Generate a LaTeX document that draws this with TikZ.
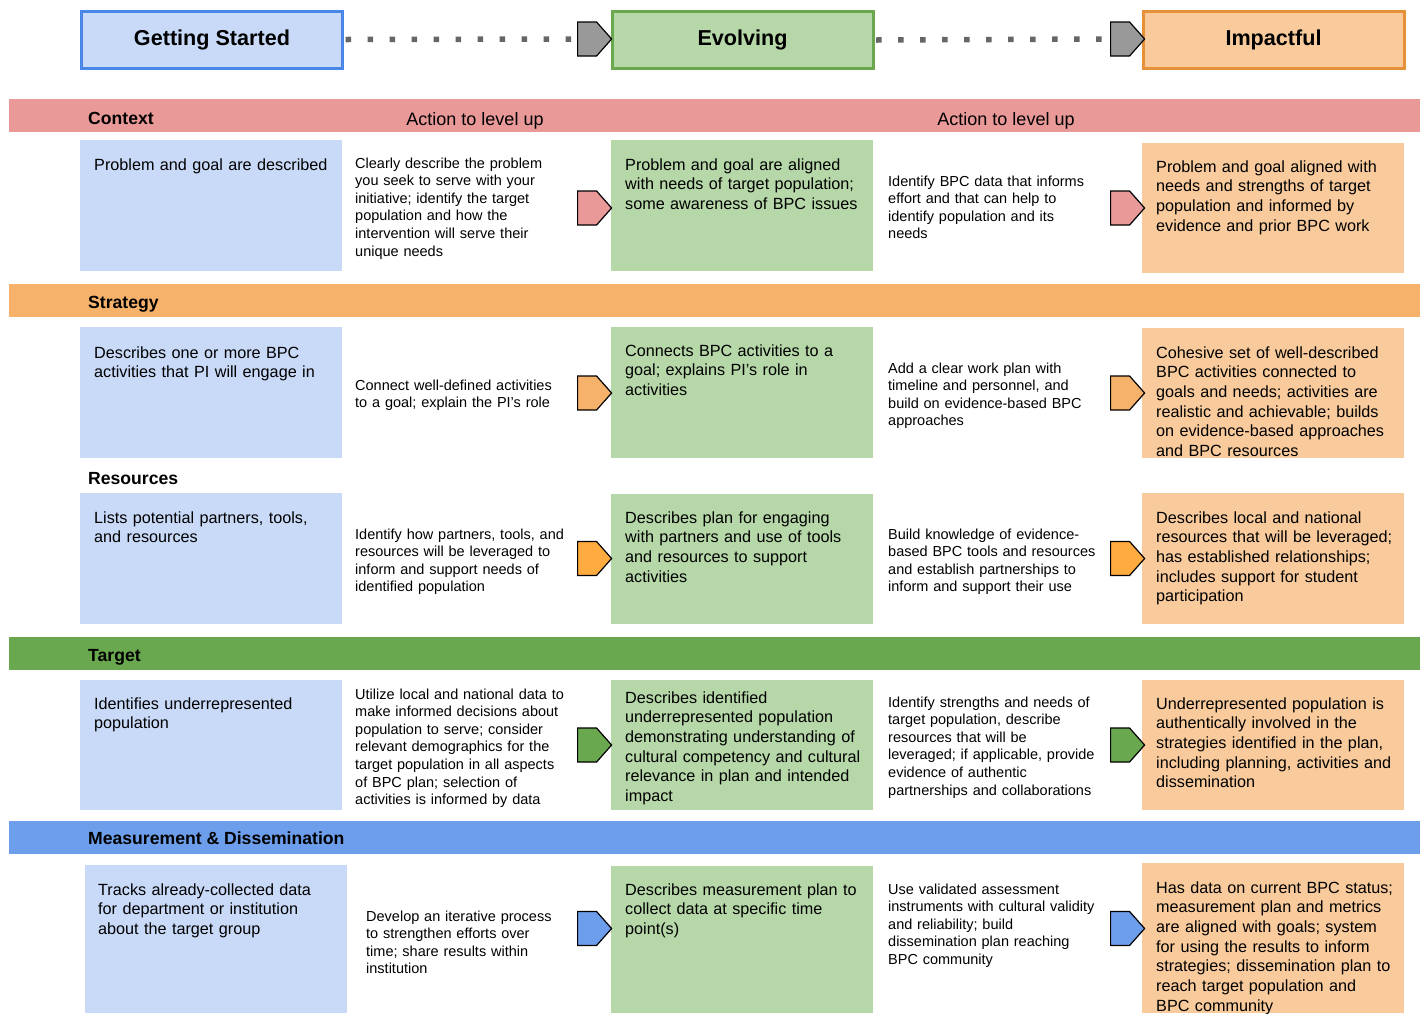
\documentclass[tikz,border=0pt]{standalone}
\usepackage{fontspec}
\setmainfont{Liberation Sans}
\usetikzlibrary{shapes.symbols}

\definecolor{startfill}{HTML}{C9DAF8}
\definecolor{startline}{HTML}{4A86E8}
\definecolor{evolvefill}{HTML}{B6D7A8}
\definecolor{evolveline}{HTML}{6AA84F}
\definecolor{impactfill}{HTML}{F9CB9C}
\definecolor{impactline}{HTML}{E69138}
\definecolor{contextband}{HTML}{EA9999}
\definecolor{strategyband}{HTML}{F6B26B}
\definecolor{resourcearrow}{HTML}{FFAB40}
\definecolor{targetband}{HTML}{6AA84F}
\definecolor{measureband}{HTML}{6D9EEB}
\definecolor{dotgray}{HTML}{666666}
\definecolor{stagearrow}{HTML}{999999}

\tikzset{
  stage/.style={draw, line width=3pt, minimum width=261pt, minimum height=57pt,
    font=\fontsize{21.6}{26}\selectfont\bfseries},
  lvlup/.style={shape=signal, signal to=east, signal pointer angle=97, draw=black,
    line width=1.2pt, minimum width=34pt, minimum height=34pt, inner sep=0pt, anchor=west},
  dotline/.style={draw=dotgray, line width=5.5pt, dash pattern=on 5.5pt off 16.5pt},
  boxtext/.style={anchor=base west, inner sep=0pt, text width=270pt, align=left,
    font=\fontsize{16.2}{19.7}\selectfont},
  acttext/.style={anchor=base west, inner sep=0pt, text width=230pt, align=left,
    font=\fontsize{14.5}{17.6}\selectfont},
  bandtitle/.style={anchor=base west, inner sep=0pt, font=\fontsize{17.6}{21}\selectfont\bfseries},
  bandnote/.style={anchor=base, inner sep=0pt, font=\fontsize{18}{21}\selectfont},
}

\begin{document}
\begin{tikzpicture}[x=1pt, y=-1pt]
    \useasboundingbox (0,0) rectangle (1426,1013);
    %% stages
    \node[stage, draw=startline, fill=startfill] (start) at (212,39.5) {Getting Started};
    \node[stage, draw=evolveline, fill=evolvefill] (evolve) at (742.5,40) {Evolving};
    \node[stage, draw=impactline, fill=impactfill] (impact) at (1273.5,39.5) {Impactful};
    \node[lvlup, fill=stagearrow] (up1) at (577,39) {};
    \node[lvlup, fill=stagearrow] (up2) at (1110,39) {};
    \draw[dotline] ([xshift=1.5pt]start.east) -- (up1.west);
    \draw[dotline] ([xshift=1.5pt]evolve.east) -- (up2.west);
    %% bands
    \fill[contextband] (9,99) rectangle (1420,132);
    \fill[strategyband] (9,284) rectangle (1420,317);
    \fill[targetband] (9,637) rectangle (1420,670);
    \fill[measureband] (9,821) rectangle (1420,854);
    \node[bandtitle] (context) at (88,124) {Context};
    \node[bandnote] (note1) at (475,125) {Action to level up};
    \node[bandnote] (note2) at (1006,125) {Action to level up};
    \node[bandtitle] (strategy) at (88,308) {Strategy};
    \node[bandtitle] (resources) at (88,484) {Resources};
    \node[bandtitle] (target) at (88,661) {Target};
    \node[bandtitle] (measure) at (88,844) {Measurement \& Dissemination};
    %% cells
    \fill[startfill] (80,140) rectangle (342,271);
    \fill[startfill] (80,327) rectangle (342,458);
    \fill[startfill] (80,493) rectangle (342,624);
    \fill[startfill] (80,680) rectangle (342,810);
    \fill[startfill] (85,865) rectangle (347,1013);
    \fill[evolvefill] (611,140) rectangle (873,271);
    \fill[evolvefill] (611,327) rectangle (873,458);
    \fill[evolvefill] (611,494) rectangle (873,624);
    \fill[evolvefill] (611,680) rectangle (873,810);
    \fill[evolvefill] (611,866) rectangle (873,1013);
    \fill[impactfill] (1142,143) rectangle (1404,273);
    \fill[impactfill] (1142,328) rectangle (1404,458);
    \fill[impactfill] (1142,493) rectangle (1404,624);
    \fill[impactfill] (1142,680) rectangle (1404,810);
    \fill[impactfill] (1142,863) rectangle (1404,1013);
    %% level-up arrows
    \foreach \y/\c [count=\i] in {208/contextband, 393/strategyband, 558.5/resourcearrow,
        745/targetband, 928.5/measureband} {
      \node[lvlup, fill=\c] (left\i) at (577,\y) {};
      \node[lvlup, fill=\c] (right\i) at (1110,\y) {};
    }
    %% context
    \node[boxtext] (start1) at (94,170) {Problem and goal are described};
    \node[acttext] (act1) at (355,168) {Clearly describe the problem\\ you seek to serve with your\\
      initiative; identify the target\\ population and how the\\ intervention will serve their\\ unique needs};
    \node[boxtext] (evolve1) at (625,170) {Problem and goal are aligned\\ with needs of target population;\\
      some awareness of BPC issues};
    \node[acttext] (act2) at (888,186) {Identify BPC data that informs\\ effort and that can help to\\
      identify population and its\\ needs};
    \node[boxtext] (impact1) at (1156,172) {Problem and goal aligned with\\ needs and strengths of target\\
      population and informed by\\ evidence and prior BPC work};
    %% strategy
    \node[boxtext] (start2) at (94,358) {Describes one or more BPC\\ activities that PI will engage in};
    \node[acttext] (act3) at (355,390) {Connect well-defined activities\\ to a goal; explain the PI's role};
    \node[boxtext] (evolve2) at (625,356) {Connects BPC activities to a\\ goal; explains PI's role in\\ activities};
    \node[acttext] (act4) at (888,373) {Add a clear work plan with\\ timeline and personnel, and\\
      build on evidence-based BPC\\ approaches};
    \node[boxtext] (impact2) at (1156,358) {Cohesive set of well-described\\ BPC activities connected to\\
      goals and needs; activities are\\ realistic and achievable; builds\\ on evidence-based approaches\\ and BPC resources};
    %% resources
    \node[boxtext] (start3) at (94,523) {Lists potential partners, tools,\\ and resources};
    \node[acttext] (act5) at (355,539) {Identify how partners, tools, and\\ resources will be leveraged to\\
      inform and support needs of\\ identified population};
    \node[boxtext] (evolve3) at (625,523) {Describes plan for engaging\\ with partners and use of tools\\
      and resources to support\\ activities};
    \node[acttext] (act6) at (888,539) {Build knowledge of evidence-\\ based BPC tools and resources\\
      and establish partnerships to\\ inform and support their use};
    \node[boxtext] (impact3) at (1156,523) {Describes local and national\\ resources that will be leveraged;\\
      has established relationships;\\ includes support for student\\ participation};
    %% target
    \node[boxtext] (start4) at (94,709) {Identifies underrepresented\\ population};
    \node[acttext] (act7) at (355,699) {Utilize local and national data to\\ make informed decisions about\\
      population to serve; consider\\ relevant demographics for the\\ target population in all aspects\\
      of BPC plan; selection of\\ activities is informed by data};
    \node[boxtext] (evolve4) at (625,703) {Describes identified\\ underrepresented population\\
      demonstrating understanding of\\ cultural competency and cultural\\ relevance in plan and intended\\ impact};
    \node[acttext] (act8) at (888,707) {Identify strengths and needs of\\ target population, describe\\
      resources that will be\\ leveraged; if applicable, provide\\ evidence of authentic\\ partnerships and collaborations};
    \node[boxtext] (impact4) at (1156,709) {Underrepresented population is\\ authentically involved in the\\
      strategies identified in the plan,\\ including planning, activities and\\ dissemination};
    %% measurement
    \node[boxtext] (start5) at (98,895) {Tracks already-collected data\\ for department or institution\\
      about the target group};
    \node[acttext] (act9) at (366,921) {Develop an iterative process\\ to strengthen efforts over\\
      time; share results within\\ institution};
    \node[boxtext] (evolve5) at (625,895) {Describes measurement plan to\\ collect data at specific time\\ point(s)};
    \node[acttext] (act10) at (888,894) {Use validated assessment\\ instruments with cultural validity\\
      and reliability; build\\ dissemination plan reaching\\ BPC community};
    \node[boxtext] (impact5) at (1156,893) {Has data on current BPC status;\\ measurement plan and metrics\\
      are aligned with goals; system\\ for using the results to inform\\ strategies; dissemination plan to\\
      reach target population and\\ BPC community};
\end{tikzpicture}
\end{document}
